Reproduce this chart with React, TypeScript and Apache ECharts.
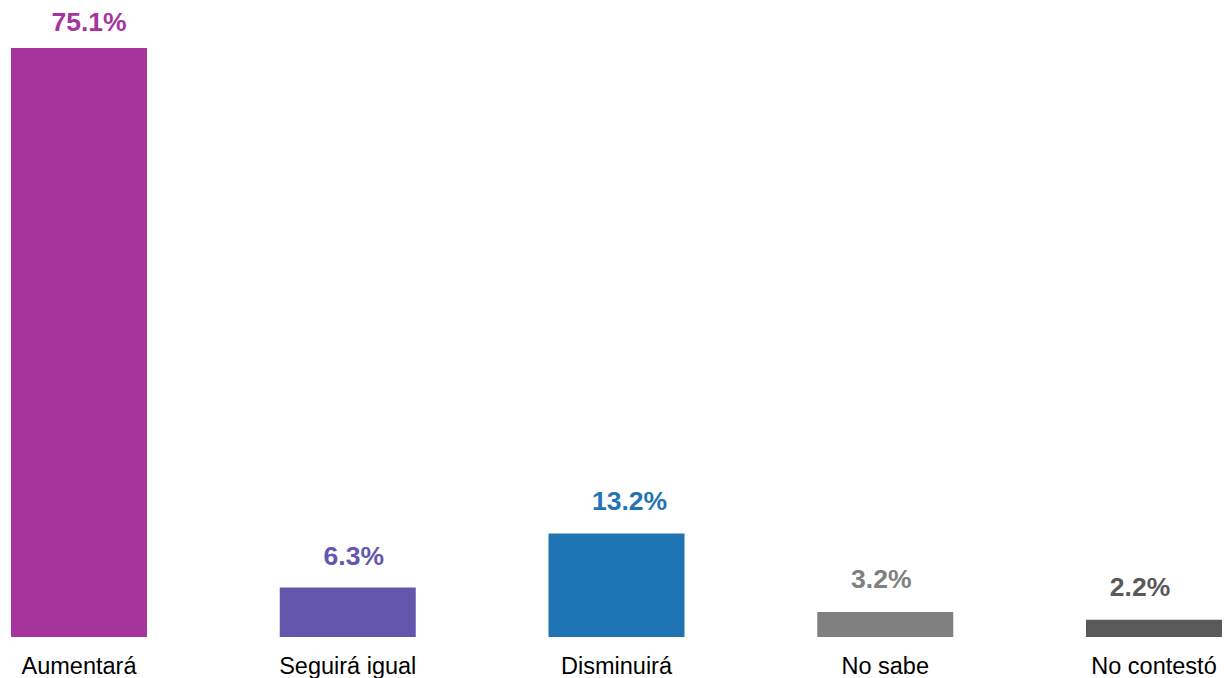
import React, { useEffect, useRef } from "react";
import * as echarts from "echarts";

const categories = ["Aumentará", "Seguirá igual", "Disminuirá", "No sabe", "No contestó"];
const values = [75.1, 6.3, 13.2, 3.2, 2.2];

const barColors = ["#A5359D", "#6556AD", "#1F75B4", "#808080", "#595959"];
const labelShiftX = [10, 6, 13, -4, -14];
const labelGap = [13, 18, 19, 19, 19];

export default function App() {
  const ref = useRef<HTMLDivElement>(null);
  useEffect(() => {
    if (!ref.current) return;
    const chart = echarts.init(ref.current, undefined, { renderer: "svg" });
    chart.setOption({
      animation: false,
      backgroundColor: "#ffffff",
      grid: { left: 79, right: 70, top: 48, bottom: 41, containLabel: false },
      xAxis: {
        type: "category",
        data: categories,
        boundaryGap: false,
        axisLine: { show: false },
        axisTick: { show: false },
        splitLine: { show: false },
        axisLabel: {
          color: "#000000",
          fontSize: 23.5,
          fontFamily: "'Liberation Sans', Arial, sans-serif",
          margin: 17,
          interval: 0,
        },
      },
      yAxis: { type: "value", min: 0, max: 75.1, show: false },
      series: [
        {
          type: "bar",
          barWidth: 136,
          clip: false,
          data: values.map((v, i) => ({
            value: v,
            itemStyle: { color: barColors[i] },
            label: {
              color: barColors[i],
              offset: [labelShiftX[i], 0],
              distance: labelGap[i],
            },
          })),
          label: {
            show: true,
            position: "top",
            fontSize: 26.5,
            fontWeight: "bold",
            fontFamily: "'Liberation Sans', Arial, sans-serif",
            formatter: (p: any) => `${Number(p.value).toFixed(1)}%`,
          },
        },
      ],
    });
    return () => chart.dispose();
  }, []);
  return (
    <div
      ref={ref}
      style={{ position: "absolute", left: 0, top: 0, width: 1224, height: 678 }}
    />
  );
}
